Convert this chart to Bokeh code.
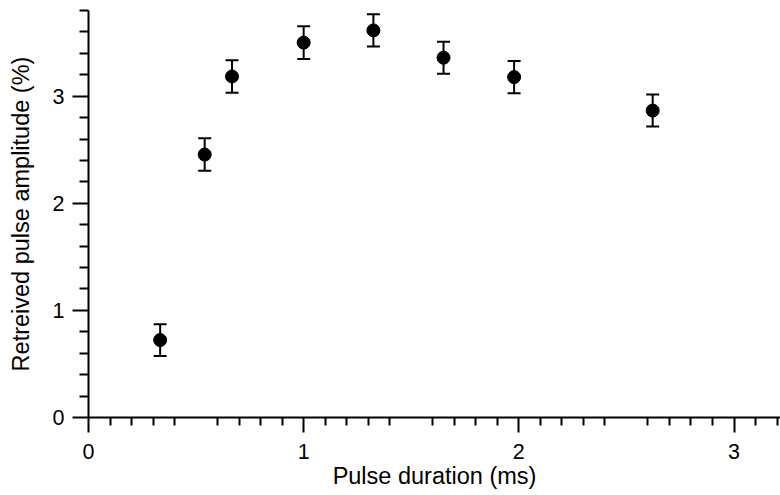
from bokeh.plotting import figure
from bokeh.models import (ColumnDataSource, Range1d, LinearAxis, FixedTicker,
                          Whisker, TeeHead)
from bokeh.embed import file_html
from bokeh.resources import INLINE

# Measured pulse amplitudes versus pulse duration
duration_ms = [0.333, 0.540, 0.667, 1.000, 1.324, 1.650, 1.978, 2.622]
amplitude_pct = [0.723, 2.455, 3.184, 3.500, 3.614, 3.359, 3.178, 2.866]
amplitude_err = [0.148, 0.152, 0.151, 0.152, 0.150, 0.150, 0.150, 0.150]

x_major = [0, 1, 2, 3]
x_mid = [0.5, 1.5, 2.5]
y_major = [0, 1, 2, 3]

FONT = "Liberation Sans"

src = ColumnDataSource(dict(
    x=duration_ms,
    y=amplitude_pct,
    lo=[v - e for v, e in zip(amplitude_pct, amplitude_err)],
    hi=[v + e for v, e in zip(amplitude_pct, amplitude_err)],
))

p = figure(width=780, height=495,
           x_range=Range1d(0, 3.216), y_range=Range1d(0, 3.8),
           output_backend="svg", toolbar_location=None,
           x_axis_location=None, y_axis_location=None,
           min_border_left=88, min_border_right=0,
           min_border_top=10, min_border_bottom=78)
p.outline_line_color = None
p.xgrid.visible = False
p.ygrid.visible = False
p.background_fill_color = "white"
p.border_fill_color = "white"


def style_axis(ax, tick_len, minor_len, label_size, title_size):
    ax.axis_line_width = 2
    ax.axis_line_color = "black"
    ax.major_tick_line_width = 2
    ax.minor_tick_line_width = 2
    ax.major_tick_line_color = "black"
    ax.minor_tick_line_color = "black"
    ax.major_tick_in = 0
    ax.minor_tick_in = 0
    ax.major_tick_out = tick_len
    ax.minor_tick_out = minor_len
    ax.major_label_text_font = FONT
    ax.major_label_text_font_size = label_size
    ax.major_label_text_color = "black"
    ax.axis_label_text_font = FONT
    ax.axis_label_text_font_size = title_size
    ax.axis_label_text_font_style = "normal"
    ax.axis_label_text_color = "black"


x_minor = [i / 10 for i in range(1, 33) if i % 5 != 0]
xaxis = LinearAxis(ticker=FixedTicker(ticks=x_major, minor_ticks=x_minor),
                   axis_label="Pulse duration (ms)")
style_axis(xaxis, 15, 8, "21.5px", "23.5px")
xaxis.major_label_standoff = 11
xaxis.axis_label_standoff = 1
p.add_layout(xaxis, "below")

# half-unit ticks of intermediate length on the duration axis
xmid = LinearAxis(ticker=FixedTicker(ticks=x_mid, minor_ticks=[]),
                  fixed_location=0,
                  major_label_overrides={v: "" for v in x_mid})
style_axis(xmid, 12, 0, "1px", "1px")
xmid.axis_line_color = None
xmid.minor_tick_line_color = None
p.add_layout(xmid, "below")

y_minor = [i / 5 for i in range(1, 20) if i % 5 != 0]
yaxis = LinearAxis(ticker=FixedTicker(ticks=y_major, minor_ticks=y_minor),
                   axis_label="Retreived pulse amplitude (%)")
style_axis(yaxis, 16, 9, "21.5px", "23.5px")
yaxis.major_label_standoff = 8
yaxis.axis_label_standoff = 16
p.add_layout(yaxis, "left")

p.add_layout(Whisker(source=src, base="x", lower="lo", upper="hi",
                     line_color="black", line_width=2,
                     lower_head=TeeHead(size=13, line_width=2, line_color="black"),
                     upper_head=TeeHead(size=13, line_width=2, line_color="black")))

p.scatter("x", "y", source=src, size=13, marker="circle",
          fill_color="black", line_color="black")

open("out.html", "w").write(file_html(p, INLINE))
